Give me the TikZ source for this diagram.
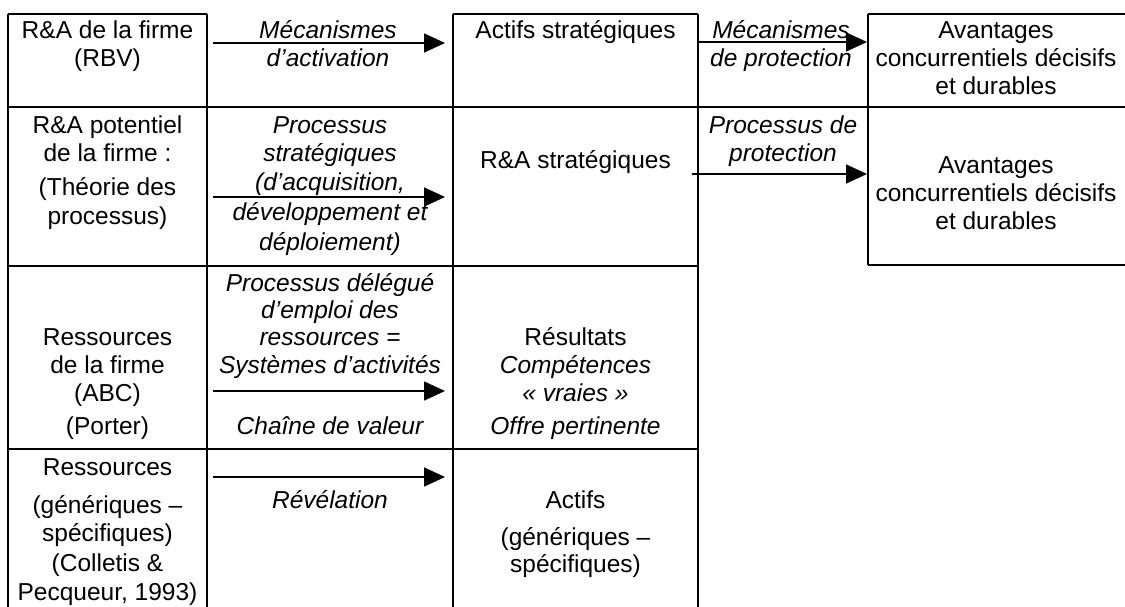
\documentclass[tikz,border=0pt]{standalone}
\usepackage{fontspec}
\setmainfont{Liberation Sans}
\usetikzlibrary{arrows.meta}
\begin{document}
\begin{tikzpicture}[x=1pt,y=-1pt,
  txt/.style={anchor=base,inner sep=0pt,font=\fontsize{24.5}{28}\selectfont},
  itx/.style={anchor=base,inner sep=0pt,font=\fontsize{24.5}{28}\selectfont\itshape},
  thinrule/.style={line width=1.3pt},
  rowrule/.style={line width=2.6pt},
  flow/.style={line width=1.6pt,-{Triangle[length=21pt,width=19pt]}}]
\useasboundingbox (0,0) rectangle (1125,607);

% ---- table rules ----
\draw[thinrule] (8,14) -- (207,14);
\draw[thinrule] (453,14) -- (698,14);
\draw[thinrule] (868,14) -- (1125,14);
\draw[rowrule] (8,107) -- (1125,107);
\draw[rowrule] (8,266) -- (698,266);
\draw[thinrule] (868,265) -- (1125,265);
\draw[rowrule] (8,449) -- (698,449);
\foreach \x in {8,207,453,698} \draw[thinrule] (\x,14) -- (\x,607);
\draw[thinrule] (868,14) -- (868,265);

% ---- row 1 ----
\node[txt] (r1a) at (107.5,38.5) {R\&A de la firme};
\node[txt] (r1b) at (107.5,66.5) {(RBV)};
\node[itx] (m1a) at (328,38.5) {Mécanismes};
\node[itx] (m1b) at (328,66.5) {d’activation};
\node[txt] (s1a) at (575.5,38.5) {Actifs stratégiques};
\node[itx] (p1a) at (781,38.5) {Mécanismes};
\node[itx] (p1b) at (781,66.5) {de protection};
\node[txt] (v1a) at (996,38.5) {Avantages};
\node[txt] (v1b) at (996,66.5) {concurrentiels décisifs};
\node[txt] (v1c) at (996,94.5) {et durables};

% ---- row 2 ----
\node[txt] (r2a) at (107.5,133.5) {R\&A potentiel};
\node[txt] (r2b) at (107.5,161.5) {de la firme :};
\node[txt] (r2c) at (107.5,195.5) {(Théorie des};
\node[txt] (r2d) at (107.5,224.5) {processus)};
\node[itx] (m2a) at (330,133.5) {Processus};
\node[itx] (m2b) at (330,161.5) {stratégiques};
\node[itx] (m2c) at (330,190.5) {(d’acquisition,};
\node[itx] (m2d) at (330,220.5) {développement et};
\node[itx] (m2e) at (330,250.5) {déploiement)};
\node[txt] (s2a) at (575.5,168.5) {R\&A stratégiques};
\node[itx] (p2a) at (783,133.5) {Processus de};
\node[itx] (p2b) at (783,161.5) {protection};
\node[txt] (v2a) at (996,173.5) {Avantages};
\node[txt] (v2b) at (996,201.5) {concurrentiels décisifs};
\node[txt] (v2c) at (996,229.5) {et durables};

% ---- row 3 ----
\node[txt] (r3a) at (107.5,345.5) {Ressources};
\node[txt] (r3b) at (107.5,373.5) {de la firme};
\node[txt] (r3c) at (107.5,401.5) {(ABC)};
\node[txt] (r3d) at (107.5,434.5) {(Porter)};
\node[itx] (m3a) at (330,291.5) {Processus délégué};
\node[itx] (m3b) at (330,318.5) {d’emploi des};
\node[itx] (m3c) at (330,345.5) {ressources =};
\node[itx] (m3d) at (330,373.5) {Systèmes d’activités};
\node[itx] (m3e) at (330,434.5) {Chaîne de valeur};
\node[txt] (s3a) at (575.5,345.5) {Résultats};
\node[itx] (s3b) at (575.5,373.5) {Compétences};
\node[itx] (s3c) at (575.5,401.5) {«~vraies~»};
\node[itx] (s3d) at (575.5,434.5) {Offre pertinente};

% ---- row 4 ----
\node[txt] (r4a) at (107.5,475.5) {Ressources};
\node[txt] (r4b) at (107.5,513.5) {(génériques –};
\node[txt] (r4c) at (107.5,541.5) {spécifiques)};
\node[txt] (r4d) at (107.5,571.5) {(Colletis \&};
\node[txt] (r4e) at (107.5,600.5) {Pecqueur, 1993)};
\node[itx] (m4a) at (330,508.5) {Révélation};
\node[txt] (s4a) at (575.5,508.5) {Actifs};
\node[txt] (s4b) at (575.5,545.5) {(génériques –};
\node[txt] (s4c) at (575.5,572.5) {spécifiques)};

% ---- arrow ends ----
\coordinate (f1s) at (213,43);  \coordinate (f1e) at (445,43);
\coordinate (f2s) at (213,197); \coordinate (f2e) at (445,197);
\coordinate (f3s) at (213,391); \coordinate (f3e) at (445,391);
\coordinate (f4s) at (213,477); \coordinate (f4e) at (445,477);
\coordinate (g1s) at (698,42);  \coordinate (g1e) at (867,42);
\coordinate (g2s) at (692,174); \coordinate (g2e) at (867,174);

\draw[flow] (f1s) -- (f1e);
\draw[flow] (f2s) -- (f2e);
\draw[flow] (f3s) -- (f3e);
\draw[flow] (f4s) -- (f4e);
\draw[flow] (g1s) -- (g1e);
\draw[flow] (g2s) -- (g2e);
\end{tikzpicture}
\end{document}
